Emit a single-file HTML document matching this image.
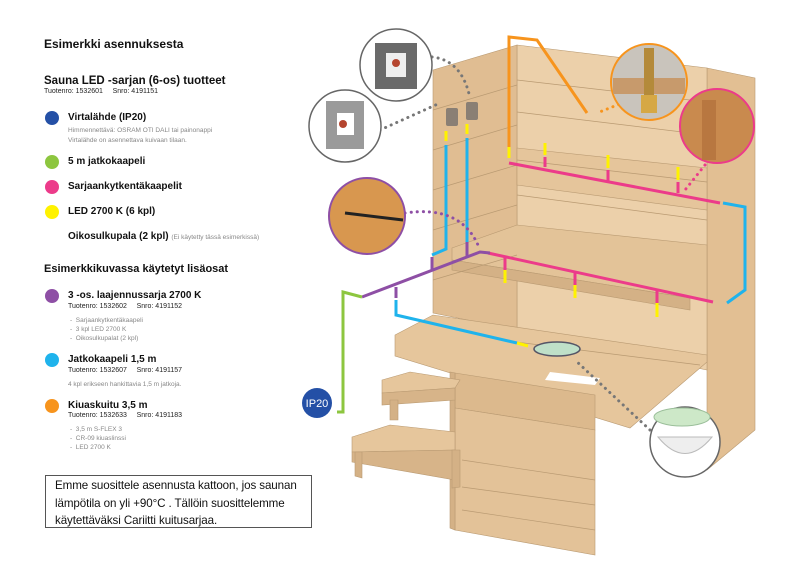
<!DOCTYPE html>
<html><head><meta charset="utf-8"><style>
html,body{margin:0;padding:0;background:#fff;}
body{width:800px;height:577px;position:relative;overflow:hidden;font-family:"Liberation Sans",sans-serif;color:#111;}
.t{position:absolute;white-space:nowrap;}
.h{font-weight:bold;font-size:12px;}
.b{font-weight:bold;font-size:10px;}
.s{font-size:7px;color:#222;}
.g{font-size:6.5px;color:#888;}
.dot{position:absolute;width:14px;height:14px;border-radius:50%;}
.box{position:absolute;left:45px;top:475px;width:267px;height:53px;border:1px solid #555;font-size:11.6px;line-height:17.5px;padding:1px 0 0 9px;box-sizing:border-box;white-space:nowrap;letter-spacing:-0.1px;}
</style></head><body>
<div class="t h" style="left:44px;top:37px">Esimerkki asennuksesta</div>
<div class="t h" style="left:44px;top:75px;font-size:11.5px">Sauna LED -sarjan (6-os) tuotteet</div>
<div class="t s" style="left:44px;top:88px">Tuotenro: 1532601&nbsp;&nbsp;&nbsp;&nbsp;&nbsp;Snro: 4191151</div>
<div class="dot" style="left:45px;top:111px;background:#2450a6"></div>
<div class="t b" style="left:68px;top:112px">Virtalähde (IP20)</div>
<div class="t g" style="left:68px;top:127px">Himmennettävä: OSRAM OTI DALI tai painonappi</div>
<div class="t g" style="left:68px;top:137px">Virtalähde on asennettava kuivaan tilaan.</div>
<div class="dot" style="left:45px;top:155px;background:#8dc63f"></div>
<div class="t b" style="left:68px;top:156px">5 m jatkokaapeli</div>
<div class="dot" style="left:45px;top:180px;background:#ec3b8a"></div>
<div class="t b" style="left:68px;top:181px">Sarjaankytkentäkaapelit</div>
<div class="dot" style="left:45px;top:205px;background:#fff200"></div>
<div class="t b" style="left:68px;top:206px">LED 2700 K (6 kpl)</div>
<div class="t b" style="left:68px;top:231px">Oikosulkupala (2 kpl) <span style="font-weight:normal;font-size:6.5px;color:#888">(Ei käytetty tässä esimerkissä)</span></div>
<div class="t h" style="left:44px;top:263px;font-size:11px">Esimerkkikuvassa käytetyt lisäosat</div>
<div class="dot" style="left:45px;top:289px;background:#8e4fa5"></div>
<div class="t b" style="left:68px;top:290px">3 -os. laajennussarja 2700 K</div>
<div class="t s" style="left:68px;top:303px">Tuotenro: 1532602&nbsp;&nbsp;&nbsp;&nbsp;&nbsp;Snro: 4191152</div>
<div class="t g" style="left:70px;top:317px">-&nbsp; Sarjaankytkentäkaapeli</div>
<div class="t g" style="left:70px;top:326px">-&nbsp; 3 kpl LED 2700 K</div>
<div class="t g" style="left:70px;top:335px">-&nbsp; Oikosulkupalat (2 kpl)</div>
<div class="dot" style="left:45px;top:353px;background:#1fb3ec"></div>
<div class="t b" style="left:68px;top:354px">Jatkokaapeli 1,5 m</div>
<div class="t s" style="left:68px;top:367px">Tuotenro: 1532607&nbsp;&nbsp;&nbsp;&nbsp;&nbsp;Snro: 4191157</div>
<div class="t g" style="left:68px;top:381px">4 kpl erikseen hankittavia 1,5 m jatkoja.</div>
<div class="dot" style="left:45px;top:399px;background:#f7941d"></div>
<div class="t b" style="left:68px;top:400px">Kiuaskuitu 3,5 m</div>
<div class="t s" style="left:68px;top:412px">Tuotenro: 1532633&nbsp;&nbsp;&nbsp;&nbsp;&nbsp;Snro: 4191183</div>
<div class="t g" style="left:70px;top:426px">-&nbsp; 3,5 m S-FLEX 3</div>
<div class="t g" style="left:70px;top:435px">-&nbsp; CR-09 kiuaslinssi</div>
<div class="t g" style="left:70px;top:444px">-&nbsp; LED 2700 K</div>
<div class="box">Emme suosittele asennusta kattoon, jos saunan<br>lämpötila on yli +90°C . Tällöin suosittelemme<br>käytettäväksi Cariitti kuitusarjaa.</div>

<svg style="position:absolute;left:0;top:0" width="800" height="577" viewBox="0 0 800 577">
<g stroke="#b99a72" stroke-width="0.6">
<polygon points="707,68 755,78 755,430 707,470" fill="#e2bf93"/>
<polygon points="517,45 707,68 707,370 517,330" fill="#ecd0aa"/>
<polygon points="433,70 517,45 517,330 433,313" fill="#e0bd92"/>
<polygon points="517,148 707,168 707,210 517,185" fill="#e5c59b"/>
<polygon points="452,248 517,225 707,245 707,300 690,298 452,260" fill="#e3c398"/>
<polygon points="452,260 690,298 690,310 452,270" fill="#d4b186"/>
<polygon points="395,335 433,315 707,355 707,362 630,428 395,356" fill="#e6c69c"/>
<polygon points="455,373 595,395 595,430 455,408" fill="#dcb98d"/>
<polygon points="455,408 595,430 595,555 455,530" fill="#e3c298"/>
<polygon points="455,373 455,530 450,528 450,372" fill="#d4b186"/>
<polygon points="382,380 410,372 460,380 455,388 382,393" fill="#e6c69c"/>
<polygon points="382,393 455,388 455,400 382,405" fill="#d7b489"/>
<polygon points="352,437 390,425 455,432 455,450 352,452" fill="#e6c69c"/>
<polygon points="352,452 455,450 455,480 352,462" fill="#d7b489"/>
<polygon points="355,452 362,452 362,478 355,476" fill="#d4b186"/>
<polygon points="452,450 460,450 460,487 452,488" fill="#d4b186"/>
<polygon points="390,400 398,400 398,420 390,420" fill="#d4b186"/>
</g>
<g stroke="#b99a72" stroke-width="0.7" fill="none">
<line x1="433" y1="110" x2="517" y2="85"/><line x1="433" y1="150" x2="517" y2="125"/><line x1="433" y1="190" x2="517" y2="165"/><line x1="433" y1="230" x2="517" y2="205"/><line x1="433" y1="280" x2="517" y2="255"/>
<line x1="517" y1="80" x2="707" y2="102"/><line x1="517" y1="112" x2="707" y2="135"/><line x1="517" y1="160" x2="707" y2="182"/><line x1="517" y1="195" x2="707" y2="220"/>
<line x1="462" y1="487" x2="595" y2="505"/><line x1="462" y1="460" x2="595" y2="480"/><line x1="462" y1="510" x2="595" y2="530"/>
<line x1="500" y1="340" x2="700" y2="365"/>
</g>
<polygon points="550,372 600,378 595,385 545,380" fill="#fff"/>
<g fill="none" stroke-width="3">
<polyline points="509,148 509,37 537,40 587,113" stroke="#f7941d"/>
<line x1="509" y1="163" x2="720" y2="203" stroke="#ec3b8a"/>
<line x1="545" y1="157" x2="545" y2="167" stroke="#ec3b8a"/><line x1="608" y1="170" x2="608" y2="182" stroke="#ec3b8a"/><line x1="678" y1="182" x2="678" y2="193" stroke="#ec3b8a"/>
<polyline points="723,203 745,207 745,290 727,303" stroke="#1fb3ec"/>
<line x1="488" y1="253" x2="713" y2="302" stroke="#ec3b8a"/>
<line x1="505" y1="258" x2="505" y2="270" stroke="#ec3b8a"/><line x1="575" y1="272" x2="575" y2="285" stroke="#ec3b8a"/><line x1="657" y1="290" x2="657" y2="303" stroke="#ec3b8a"/>
<polyline points="446,145 446,249 432,255" stroke="#1fb3ec"/>
<line x1="467" y1="138" x2="467" y2="242" stroke="#1fb3ec"/>
<polyline points="362,297 480,252 490,253" stroke="#8e4fa5"/>
<line x1="432" y1="257" x2="432" y2="270" stroke="#8e4fa5"/><line x1="467" y1="242" x2="467" y2="258" stroke="#8e4fa5"/><line x1="396" y1="287" x2="396" y2="298" stroke="#8e4fa5"/>
<polyline points="396,300 396,315 517,343" stroke="#1fb3ec"/>
<polyline points="362,297 343,292 343,412 337,412" stroke="#8dc63f"/>
<g stroke="#fff200">
<line x1="509" y1="147" x2="509" y2="158"/><line x1="545" y1="143" x2="545" y2="155"/><line x1="608" y1="155" x2="608" y2="168"/><line x1="678" y1="167" x2="678" y2="180"/>
<line x1="505" y1="270" x2="505" y2="283"/><line x1="575" y1="285" x2="575" y2="298"/><line x1="657" y1="303" x2="657" y2="317"/>
<line x1="446" y1="131" x2="446" y2="141"/><line x1="467" y1="124" x2="467" y2="134"/><line x1="517" y1="343" x2="528" y2="346"/>
</g>
</g>
<rect x="446" y="108" width="12" height="18" fill="#8a7f74" rx="2"/><rect x="466" y="102" width="12" height="18" fill="#8a7f74" rx="2"/>
<ellipse cx="557" cy="349" rx="23" ry="7" fill="#bfe0c8" stroke="#556" stroke-width="1.5"/>
<g fill="none" stroke-width="3" stroke-dasharray="0.1 6" stroke-linecap="round">
<path d="M432,57 Q462,60 470,98" stroke="#777"/>
<path d="M380,130 L440,103" stroke="#777"/>
<path d="M405,213 Q460,205 478,245" stroke="#8e4fa5"/>
<path d="M630,100 L597,113" stroke="#f7941d"/>
<path d="M705,165 L685,190" stroke="#ec3b8a"/>
<path d="M650,430 L575,360" stroke="#777"/>
</g>
<circle cx="396" cy="65" r="36" fill="#fff" stroke="#666" stroke-width="1.5"/>
<rect x="375" y="43" width="42" height="46" fill="#6a6a6a"/><rect x="386" y="53" width="20" height="24" fill="#eee"/><circle cx="396" cy="63" r="4" fill="#b5452f"/>
<circle cx="345" cy="126" r="36" fill="#fff" stroke="#666" stroke-width="1.5"/>
<rect x="326" y="101" width="38" height="48" fill="#9a9a9a"/><rect x="337" y="113" width="17" height="22" fill="#fff"/><circle cx="343" cy="124" r="4" fill="#b5452f"/>
<circle cx="649" cy="82" r="38" fill="#c9c4bc" stroke="#f7941d" stroke-width="2"/>
<rect x="613" y="78" width="72" height="16" fill="#c79a6c"/><rect x="644" y="48" width="10" height="52" fill="#b48a3a"/><rect x="641" y="95" width="16" height="18" fill="#d6a845"/>
<circle cx="717" cy="126" r="37" fill="#c98a4e" stroke="#ec3b8a" stroke-width="2"/>
<rect x="702" y="100" width="14" height="60" fill="#b87740"/>
<circle cx="367" cy="216" r="38" fill="#d8974f" stroke="#8e4fa5" stroke-width="2"/>
<line x1="345" y1="213" x2="403" y2="220" stroke="#222" stroke-width="3"/>
<circle cx="685" cy="442" r="35" fill="#fff" stroke="#666" stroke-width="1.5"/>
<path d="M658,437 Q685,470 712,437 Z" fill="#eee" stroke="#bbb"/>
<ellipse cx="682" cy="417" rx="28" ry="9" fill="#cde8c8" stroke="#9bbf9a"/>
<circle cx="317" cy="403" r="15" fill="#2450a6"/>
<text x="317" y="407" text-anchor="middle" fill="#fff" font-size="11" font-family="Liberation Sans">IP20</text>
</svg>
</body></html>
